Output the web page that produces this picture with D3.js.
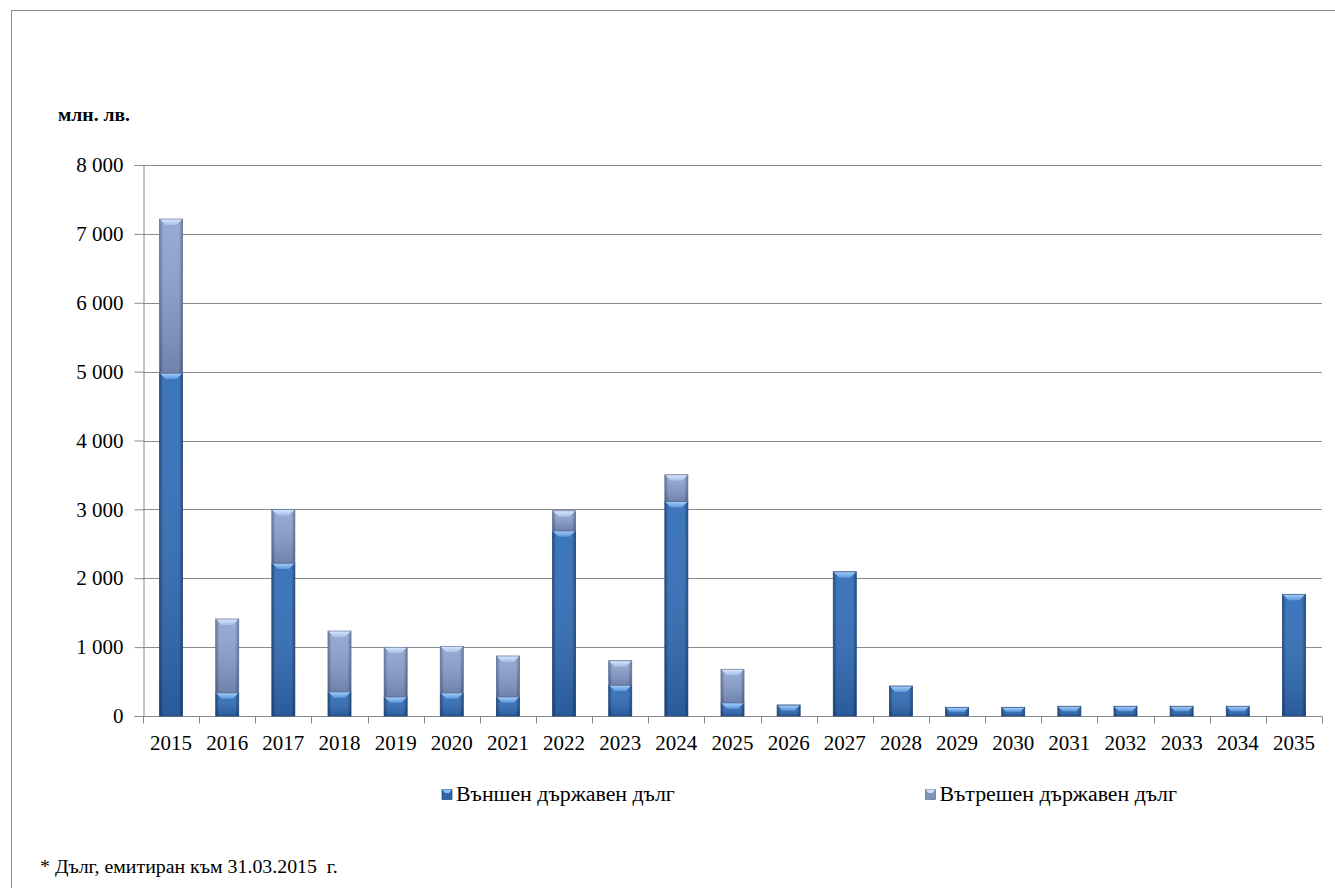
<!DOCTYPE html>
<html><head><meta charset="utf-8">
<script src="https://cdn.jsdelivr.net/npm/d3@7"></script>
<style>body{margin:0;background:#fff}svg{display:block}</style>
</head><body><svg id="c" width="1335" height="888" font-family="Liberation Serif, Times New Roman, serif"></svg>
<script>
const years = ["2015","2016","2017","2018","2019","2020","2021","2022","2023","2024","2025","2026","2027","2028","2029","2030","2031","2032","2033","2034","2035"];
const external = [4980,338,2220,353,280,338,280,2690,450,3116,193,160,2094,435,126,126,141,141,141,141,1766];
const internal = [2235,1070,780,880,717,673,591,290,353,386,485,0,0,0,0,0,0,0,0,0,0];
const seriesNames = ["Външен държавен дълг","Вътрешен държавен дълг"];
const yTicks = [0,1000,2000,3000,4000,5000,6000,7000,8000];
const unitLabel = "млн. лв.";
const footnote = "* Дълг, емитиран към 31.03.2015  г.";

const FONT = "Liberation Serif, Times New Roman, serif";
const svg = d3.select("#c");
svg.append("rect").attr("x",11.5).attr("y",10.5).attr("width",1340).attr("height",900).attr("fill","#fff").attr("stroke","#8c8c8c");

const m={l:143,r:1322,t:165,b:716};
const x=d3.scaleBand().domain(years).range([m.l,m.r]).paddingInner(0.59).paddingOuter(0.295);
const y=d3.scaleLinear().domain([0,8000]).range([m.b,m.t]);

const defs=svg.append("defs");
function hgrad(id,edge,mid){
  const g=defs.append("linearGradient").attr("id",id).attr("x1","0").attr("x2","1").attr("y1","0").attr("y2","0");
  g.append("stop").attr("offset","0").attr("stop-color",edge);
  g.append("stop").attr("offset","0.15").attr("stop-color",mid);
  g.append("stop").attr("offset","0.85").attr("stop-color",mid);
  g.append("stop").attr("offset","1").attr("stop-color",edge);
}
function vgrad(id,top,bot){
  const g=defs.append("linearGradient").attr("id",id).attr("x1","0").attr("x2","0").attr("y1","0").attr("y2","1");
  g.append("stop").attr("offset","0").attr("stop-color",top);
  g.append("stop").attr("offset","1").attr("stop-color",bot);
}
hgrad("gExtH","#1b4274","#3470b8");
vgrad("gExtV","rgba(255,255,255,0.04)","rgba(0,0,40,0.2)");
hgrad("gIntH","#596b8f","#8ba2cf");
vgrad("gIntV","rgba(255,255,255,0.1)","rgba(0,0,30,0.2)");
vgrad("bvExt","#a4cbf6","#5b97dd");
vgrad("bvInt","#d6e4fa","#a7bde6");

// gridlines
svg.append("g").selectAll("line").data(yTicks.filter(d=>d>0)).join("line")
  .attr("x1",m.l).attr("x2",m.r).attr("y1",d=>Math.round(y(d))+0.5).attr("y2",d=>Math.round(y(d))+0.5)
  .attr("stroke","#8a8a8a").attr("stroke-width",1);

// y axis
const yAxis=d3.axisLeft(y).tickValues(yTicks).tickSize(9).tickPadding(11)
  .tickFormat(d=>d3.format(",")(d).replace(/,/g," "));
const ya=svg.append("g").attr("transform",`translate(${m.l+0.5},0)`).call(yAxis)
  .attr("font-family",FONT).attr("font-size",21);
ya.select(".domain").attr("stroke","#8a8a8a");
ya.selectAll(".tick line").attr("stroke","#8a8a8a");
ya.selectAll("text").attr("fill","#000");

// x axis
const xa=svg.append("g").attr("transform",`translate(0,${m.b+0.5})`);
xa.append("line").attr("x1",m.l).attr("x2",m.r).attr("stroke","#8a8a8a");
const step=x.step();
xa.selectAll(".tk").data(d3.range(years.length+1)).join("line")
  .attr("x1",i=>Math.round(m.l+i*step)+0.5).attr("x2",i=>Math.round(m.l+i*step)+0.5)
  .attr("y1",0).attr("y2",7).attr("stroke","#8a8a8a");
xa.selectAll("text").data(years).join("text")
  .attr("x",d=>x(d)+x.bandwidth()/2).attr("y",33).attr("text-anchor","middle")
  .attr("font-size",21).attr("fill","#000").text(d=>d);

// bars
const stacked=years.map((yr,i)=>({yr,ext:external[i],int:internal[i]}));
function bar(g,x0,w,y0,y1,kind){
  const h=y0-y1; if(h<=0) return;
  const H = kind==="ext"?"gExtH":"gIntH", V = kind==="ext"?"gExtV":"gIntV";
  g.append("rect").attr("x",x0).attr("y",y1).attr("width",w).attr("height",h).attr("fill",`url(#${H})`);
  g.append("rect").attr("x",x0).attr("y",y1).attr("width",w).attr("height",h).attr("fill",`url(#${V})`)
    .attr("stroke",kind==="ext"?"#22487c":"#60739a").attr("stroke-width",0.8);
  const b=Math.min(6,h/2);
  g.append("path").attr("d",`M${x0+0.5},${y1+0.5}L${x0+w-0.5},${y1+0.5}L${x0+w-b},${y1+b}L${x0+b},${y1+b}Z`)
    .attr("fill",`url(#${kind==="ext"?"bvExt":"bvInt"})`);
}
const bg=svg.append("g");
stacked.forEach(d=>{
  const bx=x(d.yr), bw=x.bandwidth();
  bar(bg,bx,bw,y(0),y(d.ext),"ext");
  if(d.int>0) bar(bg,bx,bw,y(d.ext),y(d.ext+d.int),"int");
});

function fit(sel,width){
  const w=sel.node().getComputedTextLength();
  sel.attr("font-size",(+sel.attr("font-size"))*width/w);
  return +sel.attr("font-size");
}

// unit label
const ul=svg.append("text").attr("x",58).attr("y",121).attr("font-size",18).attr("font-weight","bold").text(unitLabel);
fit(ul,72);

// legend
const t1=svg.append("text").attr("x",456).attr("y",801).attr("font-size",20).text(seriesNames[0]);
const fs=fit(t1,219);
const t2=svg.append("text").attr("x",1177).attr("y",801).attr("font-size",fs).attr("text-anchor","end").text(seriesNames[1]);
const t2start=1177-t2.node().getComputedTextLength();
const lg=[{x:442,k:"ext"},{x:t2start-14,k:"int"}];
lg.forEach(l=>{
  svg.append("rect").attr("x",l.x).attr("y",789.5).attr("width",10).attr("height",10)
    .attr("fill",l.k==="ext"?"#2d66ac":"#7f93bd").attr("stroke",l.k==="ext"?"#1b4274":"#5a6c90").attr("stroke-width",0.7);
  svg.append("path").attr("d",`M${l.x},789.5L${l.x+10},789.5L${l.x+7},793L${l.x+3},793Z`).attr("fill",l.k==="ext"?"#8fc0f5":"#cfdcf3");
});

// footnote
const fn=svg.append("text").attr("x",40).attr("y",873).attr("font-size",18).attr("xml:space","preserve").text(footnote);
fit(fn,298);
</script></body></html>
